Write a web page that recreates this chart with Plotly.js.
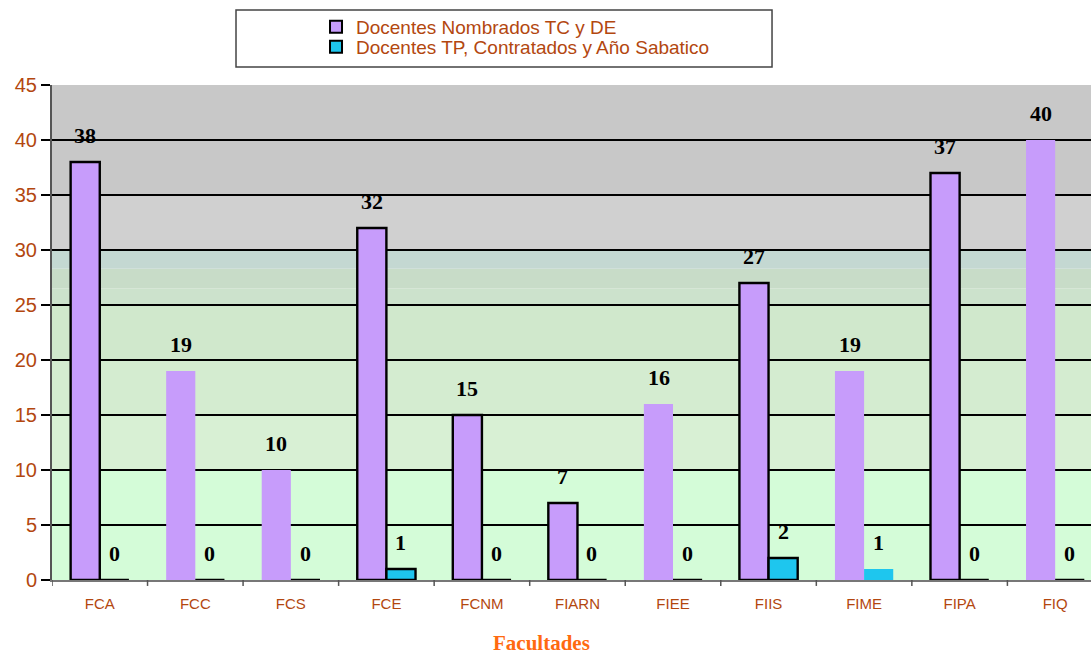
<!DOCTYPE html>
<html>
<head>
<meta charset="utf-8">
<script src="https://cdn.plot.ly/plotly-3.0.1.min.js"></script>
<style>html,body{margin:0;padding:0;background:#fff;}#chart{width:1091px;height:656px;}</style>
</head>
<body>
<div id="chart"></div>
<script>
const categories = ["FCA","FCC","FCS","FCE","FCNM","FIARN","FIEE","FIIS","FIME","FIPA","FIQ"];
const nombrados = [38,19,10,32,15,7,16,27,19,37,40];
const contratados = [0,0,0,1,0,0,0,2,1,0,0];
const seriesNames = ["Docentes Nombrados TC y DE","Docentes TP, Contratados y Año Sabatico"];
const yTicks = [0,5,10,15,20,25,30,35,40,45];
const xTitle = "Facultades";

// which bars are drawn with a black outline in the original
const outlinedPurple = [true,false,false,true,true,true,false,true,false,true,false];
const outlinedCyan = [true,true,true,true,true,true,true,true,false,true,true];

const brown = '#b3470f';
const xIdx = categories.map((c,i)=>i);

const traces = [
  {
    type:'bar', name: seriesNames[0], x: xIdx, y: nombrados, legend:'legend',
    marker:{color:'#c79cfb', line:{color:'#000', width: outlinedPurple.map(o=>o?2.4:0)}},
    hoverinfo:'y'
  },
  {
    type:'bar', name: seriesNames[1], x: xIdx, y: contratados, legend:'legend2',
    marker:{color:'#1ec6ee', line:{color:'#000', width: outlinedCyan.map(o=>o?2.4:0)}},
    hoverinfo:'y'
  }
];

// background bands (decorative gradient of the original)
const bands = [
  [0,10,'#d4fcd8'],[10,15,'#d8f0d4'],[15,20,'#d4ecd0'],[20,25,'#d0e8cc'],
  [25,26.5,'#cce2cc'],[26.5,28.3,'#c8dcc8'],[28.3,30,'#c4d8d2'],[30,35,'#d0d0d0'],[35,45,'#c8c8c8']
];
const shapes = bands.map(b=>({type:'rect', xref:'paper', yref:'y', x0:0, x1:1, y0:b[0], y1:b[1], fillcolor:b[2], line:{width:0}, layer:'below'}));
shapes.push({type:'rect', xref:'paper', yref:'paper', x0:0.1771, x1:0.693, y0:1.0364, y1:1.1515, line:{color:'#444', width:1.5}, fillcolor:'rgba(0,0,0,0)'});

const labelFont = {family:'"Liberation Serif", "Times New Roman", serif', size:22, color:'#000', weight:'bold'};
const annotations = [];
nombrados.forEach((v,i)=>annotations.push({x:i, y:v, xref:'x', yref:'y', text:String(v), showarrow:false, xshift:-14.5, yshift:27, font:labelFont, yanchor:'middle'}));
contratados.forEach((v,i)=>annotations.push({x:i, y:v, xref:'x', yref:'y', text:String(v), showarrow:false, xshift:14.5, yshift:27, font:labelFont, yanchor:'middle'}));
annotations.push({xref:'paper', yref:'paper', x:(541-52)/1039, y:(580-643)/495, xanchor:'center', yanchor:'middle', showarrow:false, text:xTitle,
  font:{family:'"Liberation Serif", "Times New Roman", serif', size:21, color:'#ff6a10', weight:'bold'}});

const legFont = {family:'"Liberation Sans", Arial, sans-serif', size:19, color:brown};
const layout = {
  width:1091, height:656,
  margin:{l:52, r:0, t:85, b:76},
  paper_bgcolor:'#fff', plot_bgcolor:'rgba(0,0,0,0)',
  barmode:'group', bargap:0.39, bargroupgap:0,
  showlegend:true,
  legend:{x:0.2541, y:(580-27)/495, xanchor:'left', yanchor:'middle', orientation:'v',
    font:legFont, bgcolor:'rgba(0,0,0,0)', borderwidth:0, itemsizing:'constant'},
  legend2:{x:0.2541, y:(580-47)/495, xanchor:'left', yanchor:'middle', orientation:'v',
    font:legFont, bgcolor:'rgba(0,0,0,0)', borderwidth:0, itemsizing:'constant'},
  xaxis:{
    type:'linear', range:[-0.5,10.375],
    tickmode:'array', tickvals:xIdx, ticktext:categories,
    ticks:'', showgrid:false, zeroline:false,
    showline:true, linecolor:'#777', linewidth:2,
    ticklabelstandoff:9,
    tickfont:{family:'"Liberation Sans", Arial, sans-serif', size:15, color:brown},
    fixedrange:true
  },
  yaxis:{
    range:[0,45], tickmode:'array', tickvals:yTicks,
    ticks:'outside', ticklen:9, tickcolor:'#000', tickwidth:1.5,
    showgrid:true, gridcolor:'#000', gridwidth:1.5,
    zeroline:false, showline:true, linecolor:'#555', linewidth:2,
    tickfont:{family:'"Liberation Sans", Arial, sans-serif', size:20, color:brown},
    fixedrange:true
  },
  shapes: shapes,
  annotations: annotations
};

// boundary tick marks on the x axis
for (let i=0;i<categories.length;i++) {
  shapes.push({type:'line', xref:'x', yref:'paper', x0:i-0.5, x1:i-0.5, y0:0, y1:-0.012, line:{color:'#555', width:1.5}});
}

Plotly.newPlot('chart', traces, layout, {displayModeBar:false, staticPlot:true});
</script>
</body>
</html>
